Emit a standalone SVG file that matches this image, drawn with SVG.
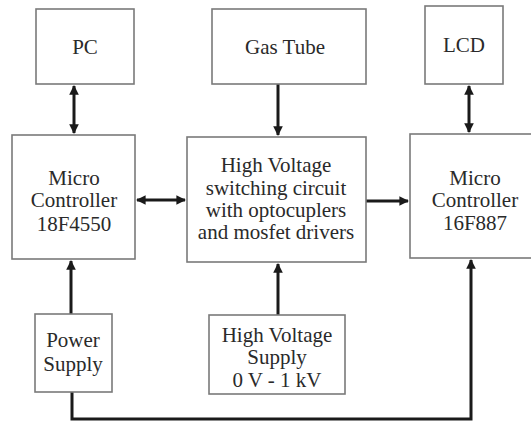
<svg xmlns="http://www.w3.org/2000/svg" width="531" height="421" viewBox="0 0 531 421">
<style>
.box{fill:#fff;stroke:#7a7a7a;stroke-width:1.6}
.t{font-family:'Liberation Serif','DejaVu Serif','Times New Roman',serif;font-size:21px;fill:#2a2a2a;text-anchor:middle}
.c{fill:none;stroke:#1a1a1a;stroke-width:3}
</style>
<defs>
<marker id="ah" viewBox="0 0 10 10" refX="9" refY="5" markerWidth="3.2" markerHeight="3.2" orient="auto-start-reverse" markerUnits="strokeWidth">
<path d="M0,0 L10,5 L0,10 z" fill="#1a1a1a"/>
</marker>
</defs>
<rect width="531" height="421" fill="#fff"/>
<g id="connectors">
<line class="c" x1="74" y1="86" x2="74" y2="133" marker-start="url(#ah)" marker-end="url(#ah)"/>
<line class="c" x1="278" y1="84" x2="278" y2="135" marker-end="url(#ah)"/>
<line class="c" x1="469" y1="86" x2="469" y2="132" marker-start="url(#ah)" marker-end="url(#ah)"/>
<line class="c" x1="137" y1="200" x2="185" y2="200" marker-start="url(#ah)" marker-end="url(#ah)"/>
<line class="c" x1="366" y1="201" x2="408" y2="201" marker-end="url(#ah)"/>
<line class="c" x1="71" y1="314" x2="71" y2="261" marker-end="url(#ah)"/>
<line class="c" x1="278" y1="315" x2="278" y2="264" marker-end="url(#ah)"/>
<polyline class="c" points="72,392 72,419 471,419 471,260" marker-end="url(#ah)"/>
</g>
<g id="pc">
<rect class="box" x="36" y="9" width="98" height="75"/>
<text class="t" x="85" y="54">PC</text>
</g>
<g id="gas-tube">
<rect class="box" x="212" y="9" width="154" height="75"/>
<text class="t" x="285" y="54">Gas Tube</text>
</g>
<g id="lcd">
<rect class="box" x="425" y="6" width="78" height="78"/>
<text class="t" x="464" y="52">LCD</text>
</g>
<g id="mc-18f4550">
<rect class="box" x="12" y="135" width="123" height="124"/>
<text class="t" x="74" y="185">Micro</text>
<text class="t" x="74" y="207">Controller</text>
<text class="t" x="74" y="231">18F4550</text>
</g>
<g id="hv-switching">
<rect class="box" x="187" y="137" width="179" height="125"/>
<text class="t" x="276" y="172">High Voltage</text>
<text class="t" x="276" y="195">switching circuit</text>
<text class="t" x="276" y="217">with optocuplers</text>
<text class="t" x="276" y="239">and mosfet drivers</text>
</g>
<g id="mc-16f887">
<rect class="box" x="410" y="134" width="124" height="124"/>
<text class="t" x="475" y="185">Micro</text>
<text class="t" x="475" y="207">Controller</text>
<text class="t" x="475" y="230">16F887</text>
</g>
<g id="power-supply">
<rect class="box" x="35" y="314" width="77" height="78"/>
<text class="t" x="73" y="347">Power</text>
<text class="t" x="73" y="371">Supply</text>
</g>
<g id="hv-supply">
<rect class="box" x="209" y="315" width="136" height="79"/>
<text class="t" x="277" y="342">High Voltage</text>
<text class="t" x="277" y="364">Supply</text>
<text class="t" x="277" y="387">0 V - 1 kV</text>
</g>
</svg>
